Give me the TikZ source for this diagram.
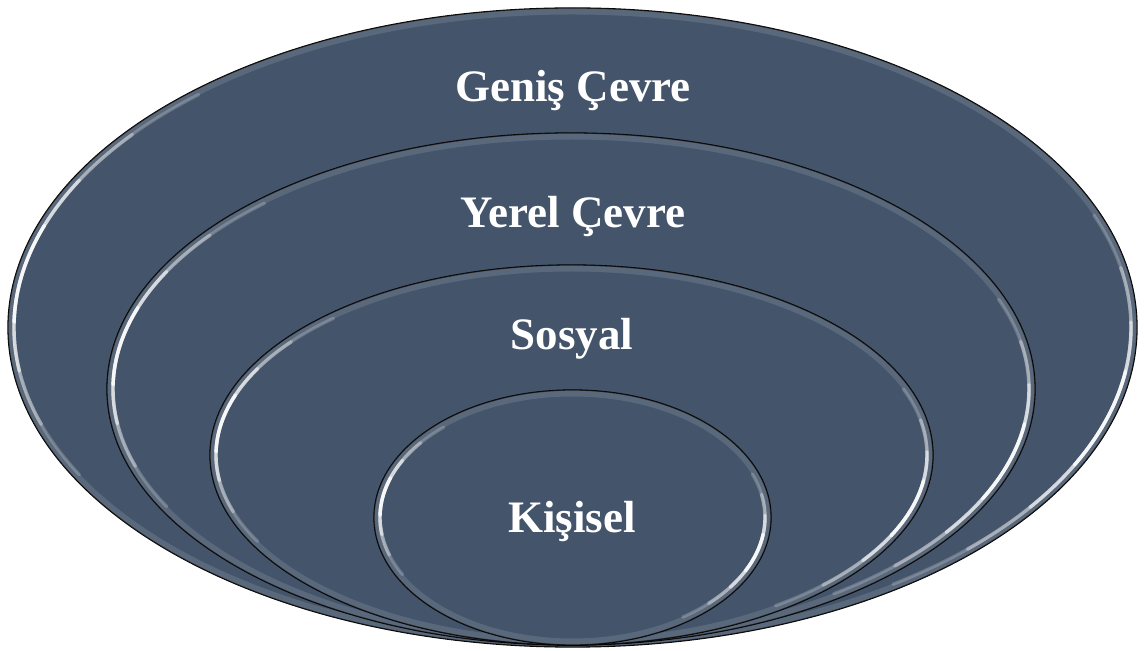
\documentclass[tikz,border=0pt]{standalone}
\usepackage{fontspec}
\setmainfont{Liberation Serif}
\definecolor{slate}{HTML}{44546A}
\tikzset{
    ring/.style={fill=slate, draw=black, line width=1.3pt},
    glow/.style={draw=white, line width=7pt, opacity=0.12},
    gloss/.style={draw=white, line width=3.4pt, line cap=round},
    ringtext/.style={text=white, anchor=base, font=\bfseries\fontsize{45}{50}\selectfont}
}
\begin{document}
\begin{tikzpicture}[x=1pt,y=1pt]
        \useasboundingbox (0,0) rectangle (1144,651);
        % vier Ringe, von aussen nach innen, unten beruehrend
        \foreach \cx/\cy/\rx/\ry in {572.5/323.5/564.5/319.5, 571/262/464/256, 571.5/196/361.5/190, 572.5/133.5/198.5/127.5}{
            \draw[ring] (\cx,\cy) ellipse ({\rx} and {\ry});
            \begin{scope}
                \clip (\cx,\cy) ellipse ({\rx} and {\ry});
                \draw[glow] (\cx,\cy) ellipse ({\rx-3} and {\ry-3}); %Rand
                % Glanz links und rechts, stufenweise ausgeblendet
                \foreach \m in {170,-17}{
                    \foreach \w/\o in {38/0.2,28/0.35,18/0.55,9/0.8}{
                        \draw[gloss, opacity=\o] (\cx,\cy) ++({(\rx-6)*cos(\m-\w)},{(\ry-6)*sin(\m-\w)})
                            arc[start angle=\m-\w, end angle=\m+\w, x radius=\rx-6, y radius=\ry-6];
                    }
                }
            \end{scope}
        }
        \node[ringtext] (genis) at (573,549) {Geniş Çevre};
        \node[ringtext] (yerel) at (573,423) {Yerel Çevre};
        \node[ringtext] (sosyal) at (572,301) {Sosyal};
        \node[ringtext] (kisisel) at (572,118) {Kişisel};
\end{tikzpicture}
\end{document}
